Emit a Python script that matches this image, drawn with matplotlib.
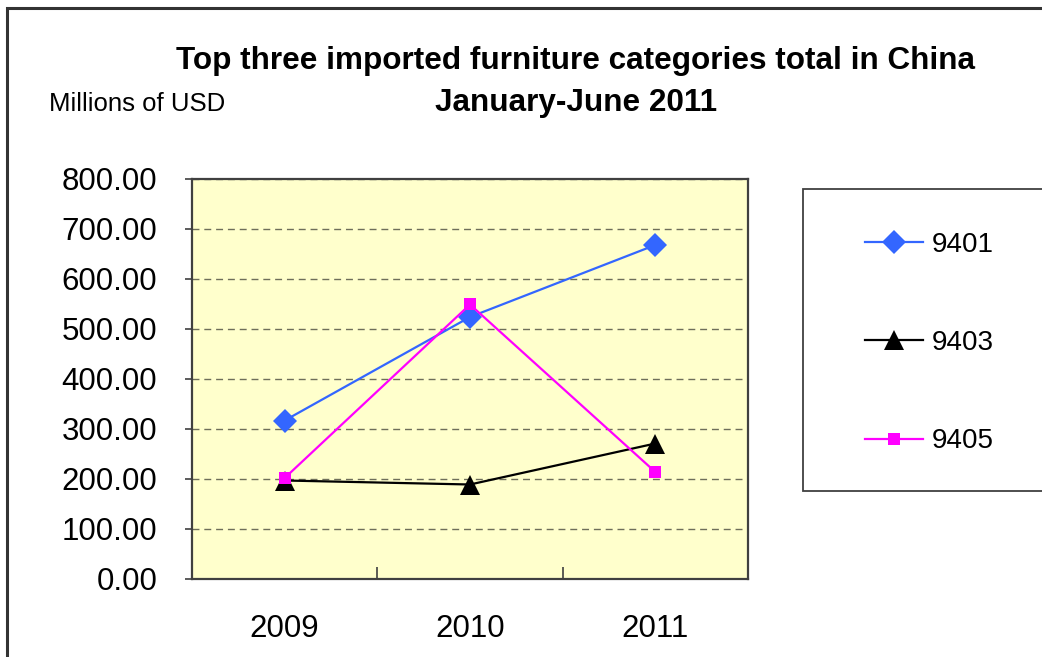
import matplotlib
matplotlib.use("Agg")
import matplotlib.pyplot as plt
from matplotlib.patches import Rectangle
from matplotlib.ticker import FixedLocator, NullFormatter

# Import totals, millions of USD, January-June of each year
years = ["2009", "2010", "2011"]
cat_9401 = [317, 524, 668]
cat_9403 = [197, 189, 271]
cat_9405 = [202, 549, 214]
series_names = ["9401", "9403", "9405"]
y_ticks = [0, 100, 200, 300, 400, 500, 600, 700, 800]

plt.rcParams["font.family"] = ["Liberation Sans", "DejaVu Sans"]

W, H = 1042, 657
fig = plt.figure(figsize=(W / 100, H / 100), dpi=100)

def fx(px):
    return px / W

def fy(py):
    return 1 - py / H

# outer chart frame (extends past the right and bottom edges)
fig.patches.append(Rectangle((fx(7), fy(700)), fx(1100) - fx(7), fy(8) - fy(700),
                             transform=fig.transFigure, fill=False,
                             edgecolor="#333333", linewidth=2.2))

ax = fig.add_axes([fx(192), fy(579), fx(748) - fx(192), fy(179) - fy(579)])
ax.set_facecolor("#FFFFCC")

x = list(range(len(years)))
styles = [
    (cat_9401, "#3366FF", "D", 12, series_names[0]),
    (cat_9403, "#000000", "^", 15, series_names[1]),
    (cat_9405, "#FF00FF", "s", 8.5, series_names[2]),
]
handles = []
for vals, col, mk, ms, name in styles:
    ln, = ax.plot(x, vals, color=col, marker=mk, markersize=ms, linewidth=1.6,
                  markeredgewidth=0, label=name, zorder=3)
    handles.append(ln)

ax.set_xlim(-0.5, len(years) - 0.5)
ax.set_ylim(0, 800)
ax.set_yticks(y_ticks)
ax.set_yticklabels([f"{v:.2f}" for v in y_ticks])
ax.yaxis.grid(True, color="#6E6E5A", linestyle=(0, (5, 3.5)), linewidth=1.0)
ax.set_axisbelow(True)

ax.set_xticks(x)
ax.set_xticklabels(years)
ax.xaxis.set_minor_locator(FixedLocator([0.5, 1.5]))
ax.xaxis.set_minor_formatter(NullFormatter())
ax.tick_params(axis="x", which="major", length=0, pad=25, labelsize=22.5)
ax.tick_params(axis="x", which="minor", direction="in", length=9, width=1.2, color="#404040")
ax.tick_params(axis="y", direction="out", length=5, width=1.2, color="#404040",
               pad=20, labelsize=22.5)
for sp in ax.spines.values():
    sp.set_color("#404040")
    sp.set_linewidth(1.6)

# titles
fig.text(fx(576), fy(61), "Top three imported furniture categories total in China",
         ha="center", va="center", fontsize=22.7, fontweight="bold")
fig.text(fx(576), fy(103), "January-June 2011",
         ha="center", va="center", fontsize=22.7, fontweight="bold")
fig.text(fx(49), fy(104), "Millions of USD", ha="left", va="center", fontsize=18.5)

# legend box
fig.patches.append(Rectangle((fx(803), fy(491)), fx(1100) - fx(803), fy(189) - fy(491),
                             transform=fig.transFigure, facecolor="white",
                             edgecolor="#404040", linewidth=1.3))
leg = fig.legend(handles=handles, loc="center left",
                 bbox_to_anchor=(fx(865), fy(343)), frameon=False,
                 fontsize=20, handlelength=2.1, handletextpad=0.3,
                 labelspacing=2.6, borderpad=0, borderaxespad=0)

fig.savefig("out.png", dpi=100)
